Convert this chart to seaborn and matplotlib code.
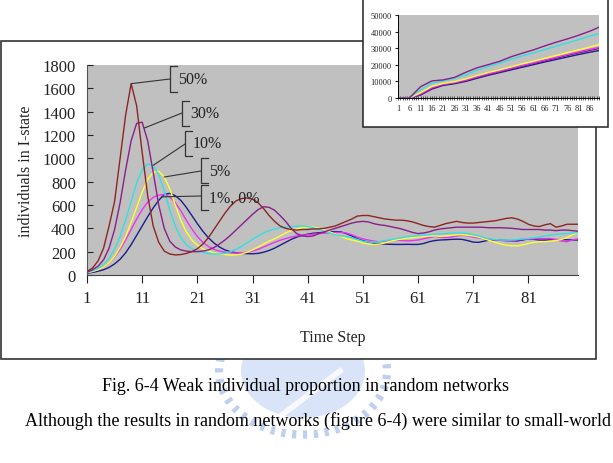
import numpy as np
import pandas as pd
import seaborn as sns
import matplotlib.pyplot as plt
from matplotlib.patches import Rectangle, Circle

# --- data ---
steps = list(range(1, 91))

p50 = [30, 60, 120, 230, 420, 630, 1000, 1370, 1640, 1450,
       1050, 680, 420, 280, 205, 180, 172, 175, 185, 200,
       225, 265, 320, 390, 460, 530, 590, 635, 655, 660,
       650, 620, 570, 510, 460, 420, 400, 390, 385, 390,
       390, 395, 395, 400, 410, 420, 440, 460, 480, 505,
       510, 510, 500, 490, 480, 475, 470, 470, 465, 455,
       440, 425, 415, 410, 425, 440, 450, 460, 450, 445,
       445, 450, 455, 460, 465, 475, 485, 490, 480, 460,
       435, 420, 415, 430, 440, 410, 420, 435, 435, 435]
p30 = [25, 45, 75, 130, 230, 390, 620, 900, 1150, 1300,
       1310, 1150, 880, 600, 400, 290, 240, 215, 205, 200,
       200, 205, 215, 235, 265, 300, 340, 385, 430, 475,
       520, 560, 585, 580, 555, 510, 460, 400, 355, 335,
       330, 335, 355, 370, 385, 400, 415, 430, 445, 455,
       460, 455, 440, 430, 425, 415, 405, 395, 380, 365,
       355, 360, 370, 385, 395, 400, 405, 410, 410, 410,
       410, 410, 408, 405, 405, 405, 403, 400, 395, 390,
       390, 390, 390, 385, 385, 380, 385, 385, 380, 375]
p10 = [20, 35, 55, 90, 140, 220, 330, 470, 630, 790,
       900, 950, 940, 860, 720, 560, 420, 320, 260, 225,
       205, 195, 185, 180, 180, 185, 200, 220, 245, 275,
       305, 335, 360, 380, 395, 405, 410, 415, 418, 420,
       415, 405, 390, 375, 360, 345, 335, 330, 320, 305,
       290, 282, 280, 285, 295, 305, 312, 320, 328, 333,
       337, 340, 345, 350, 352, 355, 358, 360, 360, 355,
       345, 335, 320, 310, 303, 300, 300, 300, 305, 310,
       314, 318, 325, 335, 342, 348, 352, 356, 360, 365]
p5 = [20, 30, 45, 70, 105, 160, 235, 330, 450, 580,
      710, 820, 880, 890, 840, 740, 600, 470, 370, 300,
      255, 225, 205, 190, 180, 175, 172, 172, 180, 195,
      215, 240, 265, 290, 310, 335, 360, 380, 395, 405,
      410, 410, 400, 385, 370, 350, 330, 312, 300, 290,
      275, 265, 262, 265, 275, 290, 300, 308, 315, 320,
      325, 330, 335, 335, 332, 335, 340, 345, 345, 340,
      335, 325, 310, 295, 280, 265, 255, 250, 250, 258,
      270, 280, 285, 285, 290, 295, 305, 320, 345, 365]
p1 = [20, 30, 45, 70, 105, 155, 220, 300, 390, 480,
      560, 625, 665, 685, 690, 670, 620, 550, 470, 395,
      330, 280, 245, 220, 205, 195, 190, 188, 190, 195,
      205, 220, 240, 260, 280, 298, 312, 325, 335, 340,
      345, 350, 355, 358, 362, 365, 365, 360, 345, 325,
      310, 300, 290, 285, 290, 295, 297, 296, 293, 295,
      300, 310, 320, 330, 325, 320, 325, 335, 340, 335,
      325, 318, 310, 305, 300, 297, 295, 295, 300, 305,
      308, 310, 312, 312, 312, 305, 290, 285, 300, 310]
p0 = [15, 22, 32, 45, 65, 95, 135, 190, 260, 340,
      420, 500, 575, 640, 690, 700, 680, 640, 580, 510,
      440, 375, 320, 275, 240, 215, 200, 190, 185, 183,
      182, 185, 195, 210, 230, 255, 280, 305, 325, 340,
      350, 358, 362, 366, 370, 372, 370, 355, 335, 310,
      295, 282, 272, 268, 265, 263, 262, 262, 263, 262,
      262, 270, 285, 295, 300, 302, 305, 307, 305, 295,
      282, 280, 290, 300, 300, 298, 295, 293, 292, 300,
      310, 305, 300, 300, 302, 303, 303, 302, 300, 300]

# inset: cumulative counts, read every 5 steps
inset_steps = [1, 6, 11, 16, 21, 26, 31, 36, 41, 46, 51, 56, 61, 66, 71, 76, 81, 86, 90]
c_top = [0, 0, 6800, 10300, 10900, 12400, 15500, 18200, 20100, 22100, 24800, 27000, 29000, 31400, 33600, 35600, 37800, 40300, 42600]
c_cyan = [0, 0, 5000, 9000, 10300, 11800, 14000, 16800, 19000, 21000, 23300, 25400, 27200, 29200, 31200, 33200, 35200, 37300, 38800]
c_yellow = [0, 0, 3200, 7000, 8800, 9800, 11500, 13500, 15400, 17000, 18800, 20600, 22200, 23900, 25600, 27300, 29000, 30700, 32200]
c_magenta = [0, 0, 2500, 6200, 8300, 9300, 10800, 12800, 14600, 16200, 17900, 19600, 21200, 22900, 24500, 26200, 27800, 29400, 30500]
c_violet = [0, 0, 2000, 5800, 8000, 9000, 10400, 12400, 14200, 15800, 17500, 19200, 20800, 22400, 24000, 25600, 27200, 28700, 29800]
c_navy = [0, 0, 1800, 5400, 7600, 8600, 10000, 11900, 13700, 15300, 16900, 18500, 20100, 21700, 23200, 24700, 26200, 27600, 28600]

series = {"0%": p0, "1%": p1, "5%": p5, "10%": p10, "30%": p30, "50%": p50}
colors = {"0%": "#1c1c8a", "1%": "#f030f0", "5%": "#ffff30", "10%": "#33e0e0",
          "30%": "#8a1e8a", "50%": "#8e2424"}

inset_series = {"a": c_navy, "b": c_violet, "c": c_magenta, "d": c_yellow, "e": c_cyan, "f": c_top}
inset_colors = {"a": "#1c1c8a", "b": "#7a1e8a", "c": "#f030f0", "d": "#ffff30", "e": "#33e0e0", "f": "#8a1e8a"}

df = pd.DataFrame([(s, t, v) for s, vals in series.items() for t, v in zip(steps, vals)],
                  columns=["series", "step", "value"])
dfi = pd.DataFrame([(s, t, v) for s, vals in inset_series.items() for t, v in zip(inset_steps, vals)],
                   columns=["series", "step", "value"])

plt.rcParams['font.family'] = ['Liberation Serif', 'DejaVu Serif']
W, H = 613, 464
fig = plt.figure(figsize=(W / 100, H / 100), dpi=100)


def fx(x):
    return x / W


def fy(y):
    return 1 - y / H


# outer chart frame
fig.patches.append(Rectangle((fx(1), fy(360)), fx(595), (360 - 42) / H, transform=fig.transFigure,
                             facecolor="white", edgecolor="#222222", lw=1.1, zorder=-5))

# watermark (faint school logo behind the page text, top half hidden by the chart frame)
fig.patches.append(Circle((fx(303), fy(372)), 62 / W, transform=fig.transFigure,
                          facecolor="#a4bdee", edgecolor="none", alpha=0.4, zorder=-7))
fig.patches.append(Circle((fx(303), fy(372)), 84 / W, transform=fig.transFigure, fill=False,
                          edgecolor="#a8c0ec", lw=6, ls=(0, (0.5, 0.8)), alpha=0.75, zorder=-6))
fig.lines.append(plt.Line2D([fx(250), fx(340)], [fy(440), fy(372)], transform=fig.transFigure,
                            color="white", lw=4, alpha=0.8, zorder=-6))

ax = fig.add_axes([fx(87), fy(276), 491 / W, 210 / H])
ax.set_facecolor("#c0c0c0")
sns.lineplot(data=df, x="step", y="value", hue="series", palette=colors, legend=False,
             linewidth=1.0, ax=ax)
ax.set_xlim(1, 90)
ax.set_ylim(0, 1800)
ax.set_yticks(range(0, 1801, 200))
ax.set_xticks(range(1, 90, 10))
for s in ["top", "right"]:
    ax.spines[s].set_visible(False)
ax.spines["left"].set_color("#555555")
ax.spines["bottom"].set_color("#444444")
ax.spines["left"].set_linewidth(0.8)
ax.spines["bottom"].set_linewidth(0.8)
ax.tick_params(axis="y", direction="in", length=4, pad=8, labelsize=12, colors="#222222")
ax.tick_params(axis="x", direction="out", length=6, pad=5, labelsize=12, colors="#222222")
ax.set_xlabel("Time Step", fontsize=11.5, color="#222222")
ax.set_ylabel("individuals in I-state", fontsize=11.5, color="#222222")
ax.xaxis.set_label_coords(0.5, -0.255)
ax.yaxis.set_label_coords(-0.108, 0.5)

# callout labels with bracket shapes
callouts = [
    ("50%", 9, 1640, 170, 67, 93, 80),
    ("30%", 11.4, 1260, 182, 102, 127, 114),
    ("10%", 13, 940, 185, 132, 157, 145),
    ("5%", 15, 840, 201, 159, 184, 172),
    ("1%, 0%", 14.6, 670, 201, 186, 211, 197),
]
for text, t, v, bx, y0, y1, ly in callouts:
    ax.annotate("", xy=(t, v), xycoords="data", xytext=(fx(bx), fy(ly)),
                textcoords="figure fraction",
                arrowprops=dict(arrowstyle="-", lw=0.8, color="#333333", shrinkA=0, shrinkB=0))
    fig.lines.append(plt.Line2D([fx(bx + 7), fx(bx), fx(bx), fx(bx + 7)],
                                [fy(y0), fy(y0), fy(y1), fy(y1)],
                                transform=fig.transFigure, color="#333333", lw=0.9))
    fig.text(fx(bx + 8), fy((y0 + y1) / 2), text, fontsize=11.5, va="center", ha="left",
             color="#222222")

# inset frame and axes
fig.patches.append(Rectangle((fx(363), fy(128)), 245 / W, 140 / H, transform=fig.transFigure,
                             facecolor="white", edgecolor="#222222", lw=1.1, zorder=1))
axi = fig.add_axes([fx(398), fy(99), 201 / W, 83 / H])
axi.set_zorder(2)
axi.set_facecolor("#c0c0c0")
sns.lineplot(data=dfi, x="step", y="value", hue="series", palette=inset_colors, legend=False,
             linewidth=1.0, ax=axi)
axi.set_xlim(1, 90)
axi.set_ylim(0, 50000)
axi.set_yticks(range(0, 50001, 10000))
axi.set_xticks(range(1, 90, 5))
axi.set_xticks(range(1, 91), minor=True)
axi.set_xlabel("")
axi.set_ylabel("")
for s in ["top", "right"]:
    axi.spines[s].set_visible(False)
axi.spines["left"].set_linewidth(0.7)
axi.spines["bottom"].set_linewidth(0.7)
axi.tick_params(axis="y", direction="out", length=2, pad=2.5, labelsize=6, colors="#222222")
axi.tick_params(axis="x", which="both", direction="inout", length=3, width=0.5, pad=3,
                labelsize=6, colors="#222222")

# caption and body text of the page
fig.text(fx(305), fy(387), "Fig. 6-4 Weak individual proportion in random networks",
         ha="center", va="center", fontsize=13, color="black")
fig.text(fx(25), fy(421),
         "Although the results in random networks (figure 6-4) were similar to small-world",
         ha="left", va="center", fontsize=13, color="black")

fig.savefig("out.png", dpi=100)
